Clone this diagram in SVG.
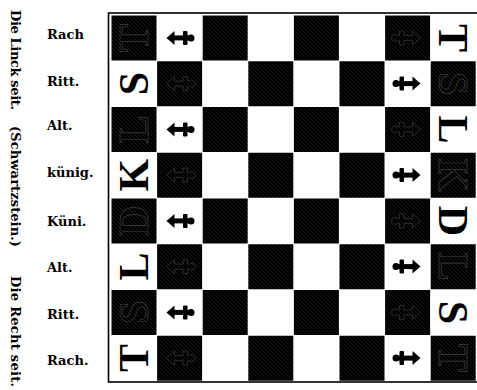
<svg xmlns="http://www.w3.org/2000/svg" xmlns:xlink="http://www.w3.org/1999/xlink" width="477" height="390" viewBox="0 0 477 390">
<style>
  .side{font-family:"DejaVu Serif","Liberation Serif",serif;font-weight:bold;font-size:13px;fill:#000}
  .lbl{font-family:"DejaVu Serif","Liberation Serif",serif;font-weight:bold;font-size:13px;fill:#000}
  .pc{font-family:"Liberation Serif","DejaVu Serif",serif;font-weight:bold;font-size:42px;fill:#000;text-anchor:middle}
  .ghost{font-family:"Liberation Serif","DejaVu Serif",serif;font-weight:bold;font-size:42px;fill:none;stroke:#404040;stroke-width:0.7;text-anchor:middle}
  .dk{fill:url(#hatch)}
  .frame{fill:none;stroke:#000;stroke-width:1.6}
</style>
<defs>
  <pattern id="hatch" patternUnits="userSpaceOnUse" width="4" height="4">
    <rect width="4" height="4" fill="#000"/>
    <path d="M-1,-1 L5,5 M-1,3 L1,5 M3,-1 L5,1" stroke="#222" stroke-width="0.6"/>
  </pattern>
  <g id="pawn">
    <path d="M-14,0 L-6,-7 L-6,7 Z"/>
    <rect x="-7" y="-2.5" width="16" height="5"/>
    <rect x="2.5" y="-7" width="4.5" height="14" rx="1"/>
    <circle cx="10.5" cy="0" r="3.5"/>
  </g>
  <g id="pawnGhost" fill="none" stroke="#3c3c3c" stroke-width="0.7">
    <path d="M-14,0 L-6,-7 L-6,-2.5 L2.5,-2.5 L2.5,-7 L7,-7 L7,-2.5 L9,-2.5 A3.5,3.5 0 1 1 9,2.5 L7,2.5 L7,7 L2.5,7 L2.5,2.5 L-6,2.5 L-6,7 Z"/>
  </g>
</defs>

<rect width="477" height="390" fill="#fff"/>

<g id="side-text">
  <text class="side" transform="translate(11,10) rotate(90)" x="0" y="0" textLength="100">Die Linck seit.</text>
  <text class="side" transform="translate(11,126) rotate(90)" x="0" y="0" textLength="121">(Schwartzstein.)</text>
  <text class="side" transform="translate(11,276) rotate(90)" x="0" y="0" textLength="111">Die Recht seit.</text>
</g>

<g id="labels">
  <text class="lbl" x="47" y="39">Rach</text>
  <text class="lbl" x="47" y="86">Ritt.</text>
  <text class="lbl" x="47" y="130">Alt.</text>
  <text class="lbl" x="47" y="177">künig.</text>
  <text class="lbl" x="47" y="226">Küni.</text>
  <text class="lbl" x="47" y="272">Alt.</text>
  <text class="lbl" x="47" y="319">Ritt.</text>
  <text class="lbl" x="47" y="365">Rach.</text>
</g>

<g id="board">
  <rect class="frame" x="108.5" y="13" width="370" height="369"/>
  <g id="dark-squares">
    <rect class="dk" x="111.5" y="15.5" width="45" height="45"/>
    <rect class="dk" x="202.7" y="15.5" width="45" height="45"/>
    <rect class="dk" x="293.9" y="15.5" width="45" height="45"/>
    <rect class="dk" x="385.1" y="15.5" width="45" height="45"/>

    <rect class="dk" x="157.1" y="61.25" width="45" height="45"/>
    <rect class="dk" x="248.3" y="61.25" width="45" height="45"/>
    <rect class="dk" x="339.5" y="61.25" width="45" height="45"/>
    <rect class="dk" x="430.7" y="61.25" width="45" height="45"/>

    <rect class="dk" x="111.5" y="107" width="45" height="45"/>
    <rect class="dk" x="202.7" y="107" width="45" height="45"/>
    <rect class="dk" x="293.9" y="107" width="45" height="45"/>
    <rect class="dk" x="385.1" y="107" width="45" height="45"/>

    <rect class="dk" x="157.1" y="152.75" width="45" height="45"/>
    <rect class="dk" x="248.3" y="152.75" width="45" height="45"/>
    <rect class="dk" x="339.5" y="152.75" width="45" height="45"/>
    <rect class="dk" x="430.7" y="152.75" width="45" height="45"/>

    <rect class="dk" x="111.5" y="198.5" width="45" height="45"/>
    <rect class="dk" x="202.7" y="198.5" width="45" height="45"/>
    <rect class="dk" x="293.9" y="198.5" width="45" height="45"/>
    <rect class="dk" x="385.1" y="198.5" width="45" height="45"/>

    <rect class="dk" x="157.1" y="244.25" width="45" height="45"/>
    <rect class="dk" x="248.3" y="244.25" width="45" height="45"/>
    <rect class="dk" x="339.5" y="244.25" width="45" height="45"/>
    <rect class="dk" x="430.7" y="244.25" width="45" height="45"/>

    <rect class="dk" x="111.5" y="290" width="45" height="45"/>
    <rect class="dk" x="202.7" y="290" width="45" height="45"/>
    <rect class="dk" x="293.9" y="290" width="45" height="45"/>
    <rect class="dk" x="385.1" y="290" width="45" height="45"/>

    <rect class="dk" x="157.1" y="335.75" width="45" height="45"/>
    <rect class="dk" x="248.3" y="335.75" width="45" height="45"/>
    <rect class="dk" x="339.5" y="335.75" width="45" height="45"/>
    <rect class="dk" x="430.7" y="335.75" width="45" height="45"/>
  </g>
</g>

<g id="left-pieces">
  <text class="ghost" transform="translate(133.8,37.9) rotate(-90)" x="0" y="14">T</text>
  <text class="pc" transform="translate(133.8,83.6) rotate(-90)" x="0" y="14">S</text>
  <text class="ghost" transform="translate(133.8,129.4) rotate(-90)" x="0" y="14">L</text>
  <text class="pc" transform="translate(133.8,175.1) rotate(-90)" x="0" y="14">K</text>
  <text class="ghost" transform="translate(133.8,220.9) rotate(-90)" x="0" y="14">D</text>
  <text class="pc" transform="translate(133.8,266.6) rotate(-90)" x="0" y="14">L</text>
  <text class="ghost" transform="translate(133.8,312.4) rotate(-90)" x="0" y="14">S</text>
  <text class="pc" transform="translate(133.8,358.1) rotate(-90)" x="0" y="14">T</text>
</g>

<g id="left-pawns">
  <use xlink:href="#pawn" transform="translate(180.5,37.9)"/>
  <use xlink:href="#pawnGhost" transform="translate(180.5,83.6)"/>
  <use xlink:href="#pawn" transform="translate(180.5,129.4)"/>
  <use xlink:href="#pawnGhost" transform="translate(180.5,175.1)"/>
  <use xlink:href="#pawn" transform="translate(180.5,220.9)"/>
  <use xlink:href="#pawnGhost" transform="translate(180.5,266.6)"/>
  <use xlink:href="#pawn" transform="translate(180.5,312.4)"/>
  <use xlink:href="#pawnGhost" transform="translate(180.5,358.1)"/>
</g>

<g id="right-pawns">
  <use xlink:href="#pawnGhost" transform="translate(406.5,37.9) scale(-1,1)"/>
  <use xlink:href="#pawn" transform="translate(406.5,83.6) scale(-1,1)"/>
  <use xlink:href="#pawnGhost" transform="translate(406.5,129.4) scale(-1,1)"/>
  <use xlink:href="#pawn" transform="translate(406.5,175.1) scale(-1,1)"/>
  <use xlink:href="#pawnGhost" transform="translate(406.5,220.9) scale(-1,1)"/>
  <use xlink:href="#pawn" transform="translate(406.5,266.6) scale(-1,1)"/>
  <use xlink:href="#pawnGhost" transform="translate(406.5,312.4) scale(-1,1)"/>
  <use xlink:href="#pawn" transform="translate(406.5,358.1) scale(-1,1)"/>
</g>

<g id="right-pieces">
  <text class="pc" transform="translate(453,37.9) rotate(90)" x="0" y="14">T</text>
  <text class="ghost" transform="translate(453,83.6) rotate(90)" x="0" y="14">S</text>
  <text class="pc" transform="translate(453,129.4) rotate(90)" x="0" y="14">L</text>
  <text class="ghost" transform="translate(453,175.1) rotate(90)" x="0" y="14">K</text>
  <text class="pc" transform="translate(453,220.9) rotate(90)" x="0" y="14">D</text>
  <text class="ghost" transform="translate(453,266.6) rotate(90)" x="0" y="14">L</text>
  <text class="pc" transform="translate(453,312.4) rotate(90)" x="0" y="14">S</text>
  <text class="ghost" transform="translate(453,358.1) rotate(90)" x="0" y="14">T</text>
</g>
</svg>
